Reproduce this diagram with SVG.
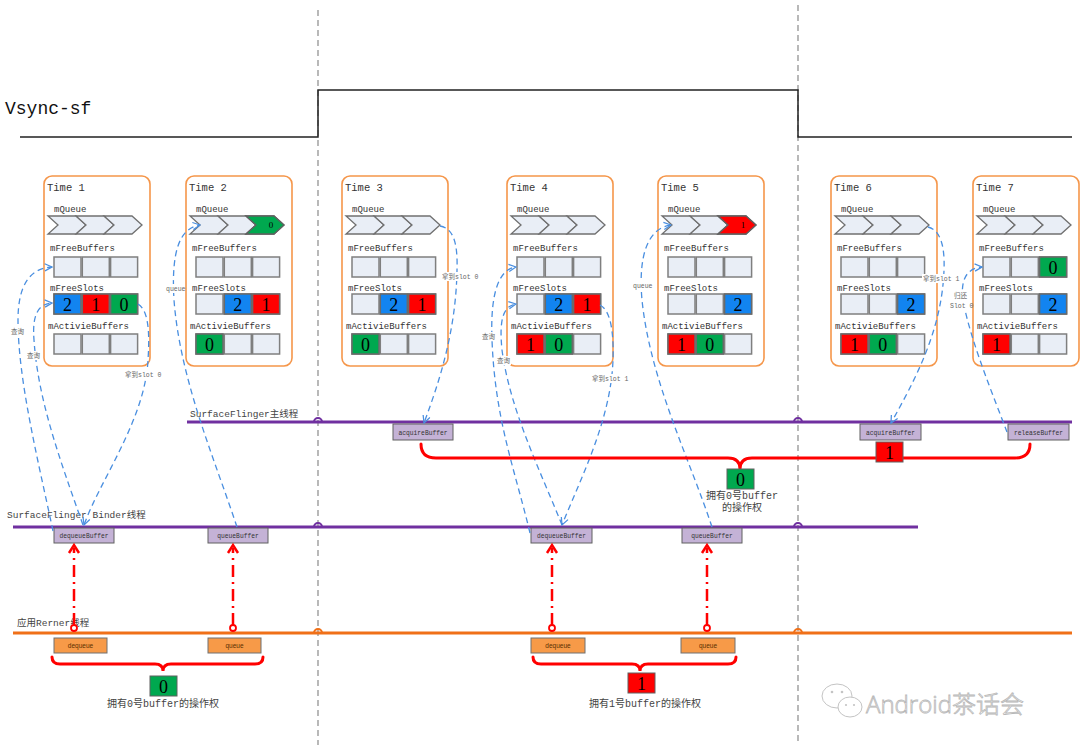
<svg xmlns="http://www.w3.org/2000/svg" width="1080" height="751" viewBox="0 0 1080 751">
<style>
.bg{fill:#fff}
.vd{stroke:#8a8a8a;stroke-width:1.2;stroke-dasharray:6,4;fill:none}
.sig{stroke:#222;stroke-width:1.5;fill:none}
.tb{fill:#fff;stroke:#F5964A;stroke-width:1.6}
.mono{font-family:"Liberation Mono","Noto Sans CJK SC",monospace;fill:#333}
.tl{font-size:10.5px}
.lb{font-size:9px}
.c{fill:#E9EEF6;stroke:#7F7F7F;stroke-width:1.5}
.cb{fill:#1284F0;stroke:#6a6a6a;stroke-width:1.5}
.cr{fill:#FF0000;stroke:#6a6a6a;stroke-width:1.5}
.cg{fill:#00A84F;stroke:#6a6a6a;stroke-width:1.5}
.ch{fill:#E9EEF6;stroke:#707070;stroke-width:1.3}
.d{font-family:"Liberation Serif",serif;font-size:18px;text-anchor:middle;fill:#000}
.dq{font-family:"Liberation Serif",serif;font-size:9px;text-anchor:middle;fill:#000}
.pl{stroke:#7030A0;stroke-width:3;fill:none}
.ol{stroke:#F07018;stroke-width:3;fill:none}
.jp{stroke:#7030A0;stroke-width:2;fill:none}
.jo{stroke:#F07018;stroke-width:2;fill:none}
.thr{font-family:"Liberation Mono","Noto Sans CJK SC",monospace;font-size:9.5px;fill:#444}
.pb{fill:#C4B2D6;stroke:#606060;stroke-width:1}
.pbt{font-family:"Liberation Mono",monospace;font-size:6.3px;fill:#333;text-anchor:middle}
.ob{fill:#F79A48;stroke:#707070;stroke-width:1}
.obt{font-family:"Liberation Sans",sans-serif;font-size:6.5px;fill:#5a3000;text-anchor:middle}
.bl{stroke:#4A8FE0;stroke-width:1.3;stroke-dasharray:6,4;fill:none;marker-end:url(#ba)}
.sm{font-family:"Liberation Mono","Noto Sans CJK SC",monospace;font-size:6.5px;fill:#666}
.rd{stroke:#FF0000;stroke-width:2.5;stroke-dasharray:12,5,2,5;fill:none}
.ra{stroke:#FF0000;stroke-width:2.5;fill:none}
.rc{fill:#fff;stroke:#FF0000;stroke-width:1.8}
.br{stroke:#FF0000;stroke-width:3;fill:none;stroke-linecap:round}
.db{stroke:#606060;stroke-width:1}
.own{font-family:"Liberation Mono","Noto Sans CJK SC",monospace;font-size:10px;fill:#444;text-anchor:middle}
</style>
<defs>
<marker id="ba" viewBox="0 0 10 10" refX="9" refY="5" markerWidth="9" markerHeight="9" orient="auto" markerUnits="userSpaceOnUse">
<path d="M1,1 L9,5 L1,9" fill="none" stroke="#4A8FE0" stroke-width="1.4"/>
</marker>
<g id="chev">
<polygon class="ch" points="4,216 32,216 42,225 32,234 4,234 14,225"/>
<polygon class="ch" points="32,216 60,216 70,225 60,234 32,234 42,225"/>
<polygon class="ch" points="60,216 88,216 98,225 88,234 60,234 70,225"/>
</g>
<g id="rows">
<rect class="c" x="10" y="257" width="27" height="20"/><rect class="c" x="38.3" y="257" width="27" height="20"/><rect class="c" x="66.6" y="257" width="27" height="20"/>
<rect class="c" x="10" y="294" width="27" height="20"/><rect class="c" x="38.3" y="294" width="27" height="20"/><rect class="c" x="66.6" y="294" width="27" height="20"/>
<rect class="c" x="10" y="334" width="27" height="20"/><rect class="c" x="38.3" y="334" width="27" height="20"/><rect class="c" x="66.6" y="334" width="27" height="20"/>
</g>
<g id="frame">
<rect class="tb" x="0" y="176" width="106" height="190" rx="8"/>
<text class="mono lb" x="10" y="212">mQueue</text>
<text class="mono lb" x="6" y="251">mFreeBuffers</text>
<text class="mono lb" x="6" y="291">mFreeSlots</text>
<text class="mono lb" x="4" y="329">mActivieBuffers</text>
<use href="#chev"/>
<use href="#rows"/>
</g>
</defs>
<rect class="bg" x="0" y="0" width="1080" height="751"/>

<g id="timeline">
<line class="vd" x1="318" y1="10" x2="318" y2="745"/>
<line class="vd" x1="798" y1="5" x2="798" y2="745"/>
<polyline class="sig" points="20,137 318,137 318,90 798,90 798,137 1072,137"/>
<text x="5" y="114" style="font-family:'Liberation Mono',monospace;font-size:18px;fill:#111">Vsync-sf</text>
</g>

<g id="time1" transform="translate(44,0)">
<use href="#frame"/>
<text class="mono tl" x="3" y="191">Time 1</text>
<rect class="cb" x="10" y="294" width="27" height="20"/><text class="d" x="23.5" y="310.5">2</text>
<rect class="cr" x="38.3" y="294" width="27" height="20"/><text class="d" x="51.8" y="310.5">1</text>
<rect class="cg" x="66.6" y="294" width="27" height="20"/><text class="d" x="80.1" y="310.5">0</text>
</g>

<g id="time2" transform="translate(186,0)">
<use href="#frame"/>
<text class="mono tl" x="3" y="191">Time 2</text>
<polygon points="60,216 88,216 98,225 88,234 60,234 70,225" fill="#00A84F" stroke="#606060" stroke-width="1.3"/><text class="dq" x="85" y="228">0</text>
<rect class="cb" x="38.3" y="294" width="27" height="20"/><text class="d" x="51.8" y="310.5">2</text>
<rect class="cr" x="66.6" y="294" width="27" height="20"/><text class="d" x="80.1" y="310.5">1</text>
<rect class="cg" x="10" y="334" width="27" height="20"/><text class="d" x="23.5" y="350.5">0</text>
</g>

<g id="time3" transform="translate(342,0)">
<use href="#frame"/>
<text class="mono tl" x="3" y="191">Time 3</text>
<rect class="cb" x="38.3" y="294" width="27" height="20"/><text class="d" x="51.8" y="310.5">2</text>
<rect class="cr" x="66.6" y="294" width="27" height="20"/><text class="d" x="80.1" y="310.5">1</text>
<rect class="cg" x="10" y="334" width="27" height="20"/><text class="d" x="23.5" y="350.5">0</text>
</g>

<g id="time4" transform="translate(507,0)">
<use href="#frame"/>
<text class="mono tl" x="3" y="191">Time 4</text>
<rect class="cb" x="38.3" y="294" width="27" height="20"/><text class="d" x="51.8" y="310.5">2</text>
<rect class="cr" x="66.6" y="294" width="27" height="20"/><text class="d" x="80.1" y="310.5">1</text>
<rect class="cr" x="10" y="334" width="27" height="20"/><text class="d" x="23.5" y="350.5">1</text>
<rect class="cg" x="38.3" y="334" width="27" height="20"/><text class="d" x="51.8" y="350.5">0</text>
</g>

<g id="time5" transform="translate(658,0)">
<use href="#frame"/>
<text class="mono tl" x="3" y="191">Time 5</text>
<polygon points="60,216 88,216 98,225 88,234 60,234 70,225" fill="#FF0000" stroke="#606060" stroke-width="1.3"/><text class="dq" x="85" y="228">1</text>
<rect class="cb" x="66.6" y="294" width="27" height="20"/><text class="d" x="80.1" y="310.5">2</text>
<rect class="cr" x="10" y="334" width="27" height="20"/><text class="d" x="23.5" y="350.5">1</text>
<rect class="cg" x="38.3" y="334" width="27" height="20"/><text class="d" x="51.8" y="350.5">0</text>
</g>

<g id="time6" transform="translate(831,0)">
<use href="#frame"/>
<text class="mono tl" x="3" y="191">Time 6</text>
<rect class="cb" x="66.6" y="294" width="27" height="20"/><text class="d" x="80.1" y="310.5">2</text>
<rect class="cr" x="10" y="334" width="27" height="20"/><text class="d" x="23.5" y="350.5">1</text>
<rect class="cg" x="38.3" y="334" width="27" height="20"/><text class="d" x="51.8" y="350.5">0</text>
</g>

<g id="time7" transform="translate(973,0)">
<use href="#frame"/>
<text class="mono tl" x="3" y="191">Time 7</text>
<rect class="cg" x="66.6" y="257" width="27" height="20"/><text class="d" x="80.1" y="273.5">0</text>
<rect class="cb" x="66.6" y="294" width="27" height="20"/><text class="d" x="80.1" y="310.5">2</text>
<rect class="cr" x="10" y="334" width="27" height="20"/><text class="d" x="23.5" y="350.5">1</text>
</g>

<g id="threads">
<line class="pl" x1="187" y1="422" x2="1072" y2="422"/>
<path class="jp" d="M314,422 A4,4 0 0 1 322,422 M794,422 A4,4 0 0 1 802,422"/>
<text class="thr" x="190" y="417">SurfaceFlinger主线程</text>
<line class="pl" x1="13" y1="527" x2="918" y2="527"/>
<path class="jp" d="M314,527 A4,4 0 0 1 322,527 M794,527 A4,4 0 0 1 802,527"/>
<text class="thr" x="7" y="518">SurfaceFlinger Binder线程</text>
<line class="ol" x1="13" y1="633" x2="1072" y2="633"/>
<path class="jo" d="M314,633 A4,4 0 0 1 322,633 M794,633 A4,4 0 0 1 802,633"/>
<text class="thr" x="17" y="626">应用Rerner线程</text>
</g>

<g id="calls">
<g id="acq1"><rect class="pb" x="393" y="424" width="60" height="16"/><text class="pbt" x="423" y="434.5">acquireBuffer</text></g>
<g id="acq2"><rect class="pb" x="860" y="424" width="61" height="16"/><text class="pbt" x="890.5" y="434.5">acquireBuffer</text></g>
<g id="rel"><rect class="pb" x="1008" y="424" width="61" height="16"/><text class="pbt" x="1038.5" y="434.5">releaseBuffer</text></g>
<g id="deq1"><rect class="pb" x="54" y="528" width="60" height="15"/><text class="pbt" x="84" y="538">dequeueBuffer</text></g>
<g id="que1"><rect class="pb" x="208" y="528" width="60" height="15"/><text class="pbt" x="238" y="538">queueBuffer</text></g>
<g id="deq2"><rect class="pb" x="531" y="528" width="61" height="15"/><text class="pbt" x="561.5" y="538">dequeueBuffer</text></g>
<g id="que2"><rect class="pb" x="682" y="528" width="60" height="15"/><text class="pbt" x="712" y="538">queueBuffer</text></g>
<g id="odeq1"><rect class="ob" x="54" y="638" width="53" height="15"/><text class="obt" x="80.5" y="648">dequeue</text></g>
<g id="oque1"><rect class="ob" x="208" y="638" width="53" height="15"/><text class="obt" x="234.5" y="648">queue</text></g>
<g id="odeq2"><rect class="ob" x="531" y="638" width="54" height="15"/><text class="obt" x="558" y="648">dequeue</text></g>
<g id="oque2"><rect class="ob" x="681" y="638" width="54" height="15"/><text class="obt" x="708" y="648">queue</text></g>
</g>

<g id="connectors">
<path class="bl" d="M53,531 C38,460 18,380 18,320 C18,285 30,268 52,267"/>
<path class="bl" d="M83,525 C60,460 38,400 34,340 C32,315 38,304 52,303"/>
<path class="bl" d="M138,304 C148,310 150,330 148,360 C145,420 100,480 84,525"/>
<path class="bl" d="M237,527 C215,460 180,380 174,300 C171,250 180,228 200,225"/>
<path class="bl" d="M440,226 C452,228 458,240 457,270 C456,330 440,380 424,423"/>
<path class="bl" d="M530,533 C515,470 495,420 492,340 C490,290 500,269 516,267"/>
<path class="bl" d="M562,525 C540,470 510,410 502,350 C499,320 503,306 516,304"/>
<path class="bl" d="M600,305 C610,310 614,330 613,360 C611,420 580,480 562,525"/>
<path class="bl" d="M712,527 C690,460 650,380 642,300 C638,255 648,228 671,225"/>
<path class="bl" d="M928,227 C940,230 945,245 944,270 C942,330 915,380 891,423"/>
<path class="bl" d="M1007,432 C995,400 970,340 963,300 C960,278 968,268 982,267"/>

<rect class="bg" x="10" y="327" width="15" height="9"/><text class="sm" x="11" y="334">查询</text>
<rect class="bg" x="26" y="351" width="15" height="9"/><text class="sm" x="27" y="358">查询</text>
<rect class="bg" x="124" y="370" width="37" height="9"/><text class="sm" x="125" y="377">拿到slot 0</text>
<rect class="bg" x="165" y="284" width="20" height="9"/><text class="sm" x="166" y="291">queue</text>
<rect class="bg" x="441" y="272" width="37" height="9"/><text class="sm" x="442" y="279">拿到slot 0</text>
<rect class="bg" x="481" y="332" width="15" height="9"/><text class="sm" x="482" y="339">查询</text>
<rect class="bg" x="496" y="356" width="15" height="9"/><text class="sm" x="497" y="363">查询</text>
<rect class="bg" x="591" y="374" width="37" height="9"/><text class="sm" x="592" y="381">拿到slot 1</text>
<rect class="bg" x="632" y="281" width="20" height="9"/><text class="sm" x="633" y="288">queue</text>
<rect class="bg" x="922" y="274" width="37" height="9"/><text class="sm" x="923" y="281">拿到slot 1</text>
<rect class="bg" x="952" y="291" width="16" height="19"/><text class="sm" x="954" y="298">归还</text><text class="sm" x="950" y="308">Slot 0</text>

<line class="rd" x1="74" y1="625" x2="74" y2="548"/><polyline class="ra" points="69,553 74,545 79,553"/><circle class="rc" cx="74" cy="628" r="3"/>
<line class="rd" x1="233" y1="625" x2="233" y2="548"/><polyline class="ra" points="228,553 233,545 238,553"/><circle class="rc" cx="233" cy="628" r="3"/>
<line class="rd" x1="552" y1="625" x2="552" y2="548"/><polyline class="ra" points="547,553 552,545 557,553"/><circle class="rc" cx="552" cy="628" r="3"/>
<line class="rd" x1="707" y1="625" x2="707" y2="548"/><polyline class="ra" points="702,553 707,545 712,553"/><circle class="rc" cx="707" cy="628" r="3"/>
</g>

<g id="ownership">
<path class="br" d="M421,444 Q421,458 436,458 L728,458 Q740,458 740,469 Q740,458 752,458 L1015,458 Q1030,458 1030,444"/>
<rect class="db" x="876" y="442" width="27" height="20" fill="#FF0000"/><text class="d" x="889.5" y="458.5">1</text>
<rect class="db" x="727" y="469" width="27" height="20" fill="#00A84F"/><text class="d" x="740.5" y="485.5">0</text>
<text class="own" x="742" y="499">拥有0号buffer</text>
<text class="own" x="742" y="511">的操作权</text>

<path class="br" d="M52,657 Q52,664 60,664 L155,664 Q163,664 163,671 Q163,664 171,664 L255,664 Q263,664 263,657"/>
<rect class="db" x="150" y="676" width="27" height="20" fill="#00A84F"/><text class="d" x="163.5" y="692.5">0</text>
<text class="own" x="163" y="707">拥有0号buffer的操作权</text>

<path class="br" d="M533,657 Q533,664 541,664 L632,664 Q640,664 640,671 Q640,664 648,664 L728,664 Q736,664 736,657"/>
<rect class="db" x="628" y="673" width="27" height="20" fill="#FF0000"/><text class="d" x="641.5" y="689.5">1</text>
<text class="own" x="645" y="707">拥有1号buffer的操作权</text>
</g>

<g id="watermark">
<ellipse cx="837" cy="696" rx="15" ry="12" fill="#fff" stroke="#c4c4c4" stroke-width="1"/>
<ellipse cx="850" cy="707" rx="12" ry="10" fill="#fff" stroke="#c4c4c4" stroke-width="1"/>
<circle cx="832" cy="692" r="1.3" fill="#c4c4c4"/><circle cx="842" cy="692" r="1.3" fill="#c4c4c4"/>
<circle cx="846" cy="705" r="1.1" fill="#c4c4c4"/><circle cx="854" cy="705" r="1.1" fill="#c4c4c4"/>
<text x="866" y="713" style="font-family:'Open Sans','Noto Sans CJK SC',sans-serif;font-size:24px;font-weight:300;fill:#fff;stroke:#b8b8b8;stroke-width:0.8">Android茶话会</text>
</g>
</svg>
